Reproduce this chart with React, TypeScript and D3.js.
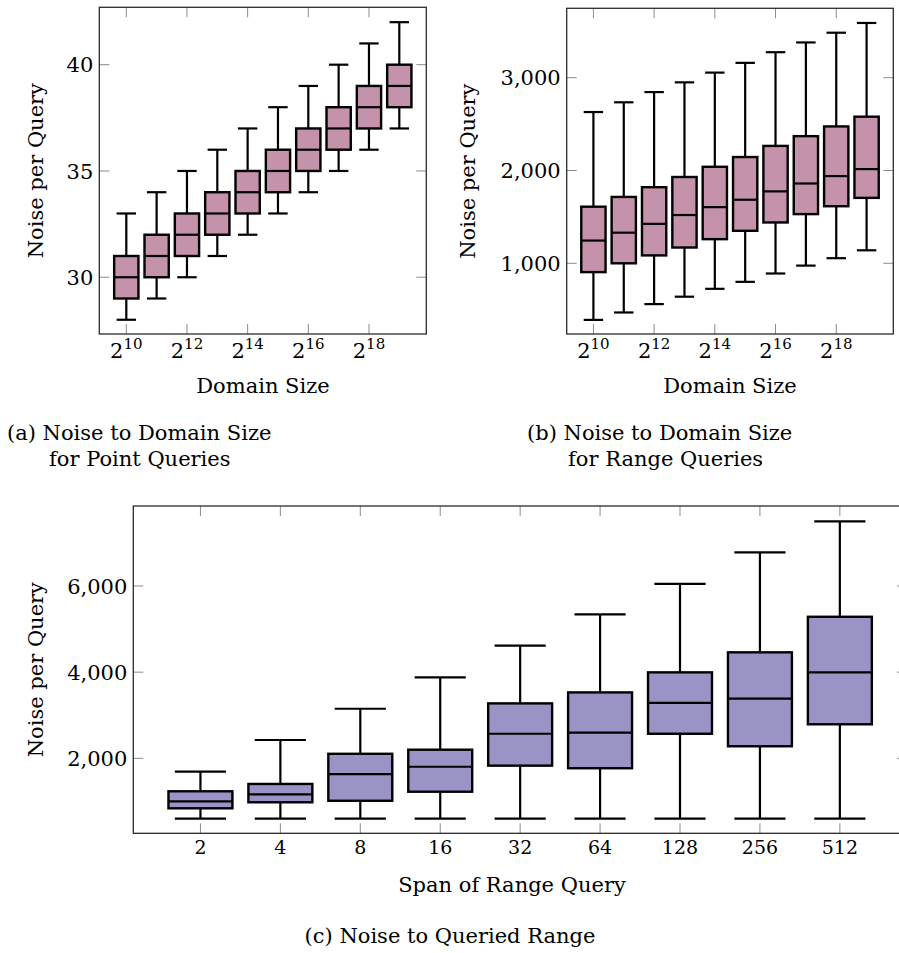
import React, { useEffect, useRef } from "react";
import * as d3 from "d3";

// (a) point queries, x = log2 of domain size
const domainExps = [10, 11, 12, 13, 14, 15, 16, 17, 18, 19];
const domainTicks = [10, 12, 14, 16, 18];
const pointLow = [28, 29, 30, 31, 32, 33, 34, 35, 36, 37];
const pointQ1 = [29, 30, 31, 32, 33, 34, 35, 36, 37, 38];
const pointMedian = [30, 31, 32, 33, 34, 35, 36, 37, 38, 39];
const pointQ3 = [31, 32, 33, 34, 35, 36, 37, 38, 39, 40];
const pointHigh = [33, 34, 35, 36, 37, 38, 39, 40, 41, 42];
const pointYTicks = [30, 35, 40];

// (b) range queries over domain size
const rangeLow = [390, 470, 560, 640, 725, 800, 890, 975, 1055, 1140];
const rangeQ1 = [905, 1000, 1085, 1170, 1260, 1350, 1440, 1530, 1615, 1705];
const rangeMedian = [1245, 1330, 1425, 1520, 1605, 1685, 1775, 1860, 1940, 2015];
const rangeQ3 = [1610, 1715, 1820, 1930, 2040, 2145, 2265, 2370, 2475, 2580];
const rangeHigh = [2630, 2735, 2845, 2950, 3055, 3160, 3275, 3380, 3485, 3590];
const rangeYTicks = [1000, 2000, 3000];

// (c) span of range query
const spans = ["2", "4", "8", "16", "32", "64", "128", "256", "512"];
const spanLow = [600, 600, 600, 600, 600, 600, 600, 600, 600];
const spanQ1 = [840, 980, 1015, 1225, 1830, 1770, 2570, 2280, 2790];
const spanMedian = [1000, 1165, 1635, 1805, 2570, 2595, 3285, 3385, 3995];
const spanQ3 = [1235, 1405, 2105, 2200, 3275, 3530, 3995, 4460, 5285];
const spanHigh = [1690, 2425, 3150, 3880, 4615, 5340, 6050, 6780, 7500];
const spanYTicks = [2000, 4000, 6000];

const FONT = "DejaVu Serif, serif";
const PINK = "#c592ab";
const PURPLE = "#9a93c5";

interface Panel {
  left: number;
  right: number;
  top: number;
  bottom: number;
  xDomain: [number, number];
  yDomain: [number, number];
  xs: number[];
  low: number[];
  q1: number[];
  med: number[];
  q3: number[];
  high: number[];
  fill: string;
  yTicks: number[];
  yFormat: (v: number) => string;
  xTicks: number[];
  xLabel: (g: any, v: number, i: number) => void;
  xLabelDy: number;
  yLabelX: number;
}

function drawPanel(root: d3.Selection<SVGSVGElement, unknown, null, undefined>, p: Panel) {
  const x = d3.scaleLinear().domain(p.xDomain).range([p.left, p.right]);
  const y = d3.scaleLinear().domain(p.yDomain).range([p.bottom, p.top]);
  const g = root.append("g");
  const step = x(1) - x(0);
  const boxW = step * 0.8;
  const capW = step * 0.64;

  // ticks, inward on all four sides
  const tickLen = 10;
  const ticks = g.append("g").attr("stroke", "#8c8c8c").attr("stroke-width", 1);
  p.xTicks.forEach((v) => {
    ticks.append("line").attr("x1", x(v)).attr("x2", x(v)).attr("y1", p.bottom).attr("y2", p.bottom - tickLen);
    ticks.append("line").attr("x1", x(v)).attr("x2", x(v)).attr("y1", p.top).attr("y2", p.top + tickLen);
  });
  p.yTicks.forEach((v) => {
    ticks.append("line").attr("x1", p.left).attr("x2", p.left + tickLen).attr("y1", y(v)).attr("y2", y(v));
    ticks.append("line").attr("x1", p.right).attr("x2", p.right - tickLen).attr("y1", y(v)).attr("y2", y(v));
  });

  // whiskers
  const wh = g.append("g").attr("stroke", "#000").attr("stroke-width", 2.2);
  p.xs.forEach((c, i) => {
    const cx = x(c);
    wh.append("line").attr("x1", cx).attr("x2", cx).attr("y1", y(p.low[i])).attr("y2", y(p.high[i]));
    wh.append("line").attr("x1", cx - capW / 2).attr("x2", cx + capW / 2).attr("y1", y(p.low[i])).attr("y2", y(p.low[i]));
    wh.append("line").attr("x1", cx - capW / 2).attr("x2", cx + capW / 2).attr("y1", y(p.high[i])).attr("y2", y(p.high[i]));
  });

  // boxes
  p.xs.forEach((c, i) => {
    const cx = x(c);
    g.append("rect")
      .attr("x", cx - boxW / 2)
      .attr("y", y(p.q3[i]))
      .attr("width", boxW)
      .attr("height", y(p.q1[i]) - y(p.q3[i]))
      .attr("fill", p.fill)
      .attr("stroke", "#000")
      .attr("stroke-width", 2.4);
    g.append("line")
      .attr("x1", cx - boxW / 2)
      .attr("x2", cx + boxW / 2)
      .attr("y1", y(p.med[i]))
      .attr("y2", y(p.med[i]))
      .attr("stroke", "#000")
      .attr("stroke-width", 2.2);
  });

  // frame
  g.append("rect")
    .attr("x", p.left)
    .attr("y", p.top)
    .attr("width", p.right - p.left)
    .attr("height", p.bottom - p.top)
    .attr("fill", "none")
    .attr("stroke", "#2b2b2b")
    .attr("stroke-width", 1.3);

  // y tick labels
  p.yTicks.forEach((v) => {
    g.append("text")
      .attr("x", p.left - 6)
      .attr("y", y(v))
      .attr("dy", "0.36em")
      .attr("text-anchor", "end")
      .attr("font-family", FONT)
      .attr("font-size", 21)
      .text(p.yFormat(v));
  });

  // x tick labels
  p.xTicks.forEach((v, i) => {
    const t = g
      .append("text")
      .attr("x", x(v))
      .attr("y", p.bottom + p.xLabelDy)
      .attr("text-anchor", "middle")
      .attr("font-family", FONT)
      .attr("font-size", 21);
    p.xLabel(t, v, i);
  });

  // y axis label
  g.append("text")
    .attr("transform", `translate(${p.yLabelX},${(p.top + p.bottom) / 2}) rotate(-90)`)
    .attr("text-anchor", "middle")
    .attr("font-family", FONT)
    .attr("font-size", 21)
    .text("Noise per Query");
}

const App: React.FC = () => {
  const svgRef = useRef<SVGSVGElement | null>(null);

  useEffect(() => {
    if (!svgRef.current) return;
    const svg = d3.select(svgRef.current);
    svg.selectAll("*").remove();

    const powLabel = (t: any, v: number) => {
      t.append("tspan").text("2");
      t.append("tspan").attr("font-size", 15).attr("dy", -9).text(String(v));
    };
    const comma = d3.format(",");

    drawPanel(svg, {
      left: 99.3, right: 426.3, top: 7.3, bottom: 334,
      xDomain: [9.11, 19.89], yDomain: [27.33, 42.7],
      xs: domainExps, low: pointLow, q1: pointQ1, med: pointMedian, q3: pointQ3, high: pointHigh,
      fill: PINK, yTicks: pointYTicks, yFormat: (v) => String(v),
      xTicks: domainTicks, xLabel: powLabel, xLabelDy: 24, yLabelX: 42.5,
    });

    drawPanel(svg, {
      left: 566.7, right: 893.3, top: 8.3, bottom: 334,
      xDomain: [9.12, 19.88], yDomain: [238, 3748],
      xs: domainExps, low: rangeLow, q1: rangeQ1, med: rangeMedian, q3: rangeQ3, high: rangeHigh,
      fill: PINK, yTicks: rangeYTicks, yFormat: (v) => comma(v),
      xTicks: domainTicks, xLabel: powLabel, xLabelDy: 24, yLabelX: 475,
    });

    drawPanel(svg, {
      left: 133.3, right: 907, top: 506, bottom: 833.3,
      xDomain: [-0.84, 8.84], yDomain: [260, 7856],
      xs: spans.map((_, i) => i), low: spanLow, q1: spanQ1, med: spanMedian, q3: spanQ3, high: spanHigh,
      fill: PURPLE, yTicks: spanYTicks, yFormat: (v) => comma(v),
      xTicks: spans.map((_, i) => i),
      xLabel: (t, _v, i) => t.attr("font-size", 19).text(spans[i]),
      xLabelDy: 21, yLabelX: 42.5,
    });

    const label = (x: number, y: number, s: string, anchor = "middle") =>
      svg
        .append("text")
        .attr("x", x)
        .attr("y", y)
        .attr("text-anchor", anchor)
        .attr("font-family", FONT)
        .attr("font-size", 21)
        .text(s);

    label(263, 393, "Domain Size");
    label(730, 393, "Domain Size");
    label(7, 440, "(a) Noise to Domain Size", "start");
    label(49, 466, "for Point Queries", "start");
    label(527, 440, "(b) Noise to Domain Size", "start");
    label(568, 466, "for Range Queries", "start");
    label(512, 892, "Span of Range Query");
    label(450, 943, "(c) Noise to Queried Range");
  }, []);

  return (
    <svg
      ref={svgRef}
      width={899}
      height={953}
      style={{ position: "absolute", left: 0, top: 0, background: "#fff" }}
    />
  );
};

export default App;
